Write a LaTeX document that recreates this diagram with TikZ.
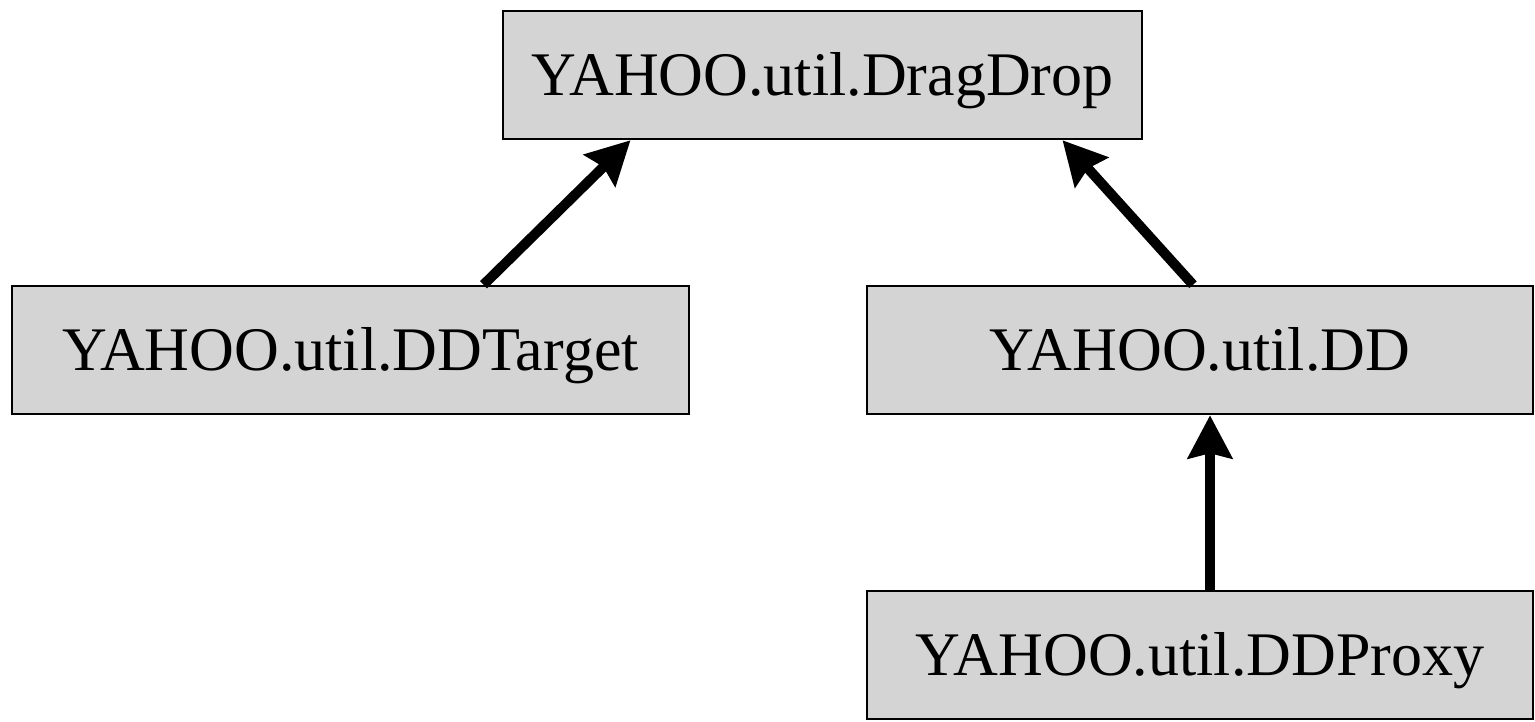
\documentclass[tikz,border=0pt]{standalone}
\usepackage{fontspec}
\setmainfont{Liberation Serif}
\usetikzlibrary{arrows.meta}
\definecolor{boxgray}{RGB}{212,212,212}
\tikzset{
            cls/.style={draw, line width=2.5pt, fill=boxgray, inner sep=0pt,
                        minimum height=128pt, text height=41pt, text depth=0pt,
                        font=\fontsize{62}{70}\selectfont},
            inherits/.style={line width=10pt, -{Stealth[length=43pt,width=44pt,inset=5pt]}}
        }
\begin{document}
\begin{tikzpicture}[x=1pt, y=-1pt]
                \useasboundingbox (0,0) rectangle (1535,722);
                \node[cls, minimum width=639pt] (dragdrop) at (822.5,75) {YAHOO.util.DragDrop};
                \node[cls, minimum width=677pt] (ddtarget) at (350.5,350) {YAHOO.util.DDTarget};
                \node[cls, minimum width=666pt] (dd) at (1200,350) {YAHOO.util.DD};
                \node[cls, minimum width=666pt] (ddproxy) at (1200,655) {YAHOO.util.DDProxy};
                % subclasses point at their parent
                \draw[inherits] ([xshift=133pt]ddtarget.north) -- ([xshift=-192pt]dragdrop.south);
                \draw[inherits] ([xshift=-7pt]dd.north) -- ([xshift=240pt]dragdrop.south);
                \draw[inherits] ([xshift=10pt]ddproxy.north) -- ([xshift=10pt]dd.south);
            \end{tikzpicture}
\end{document}
